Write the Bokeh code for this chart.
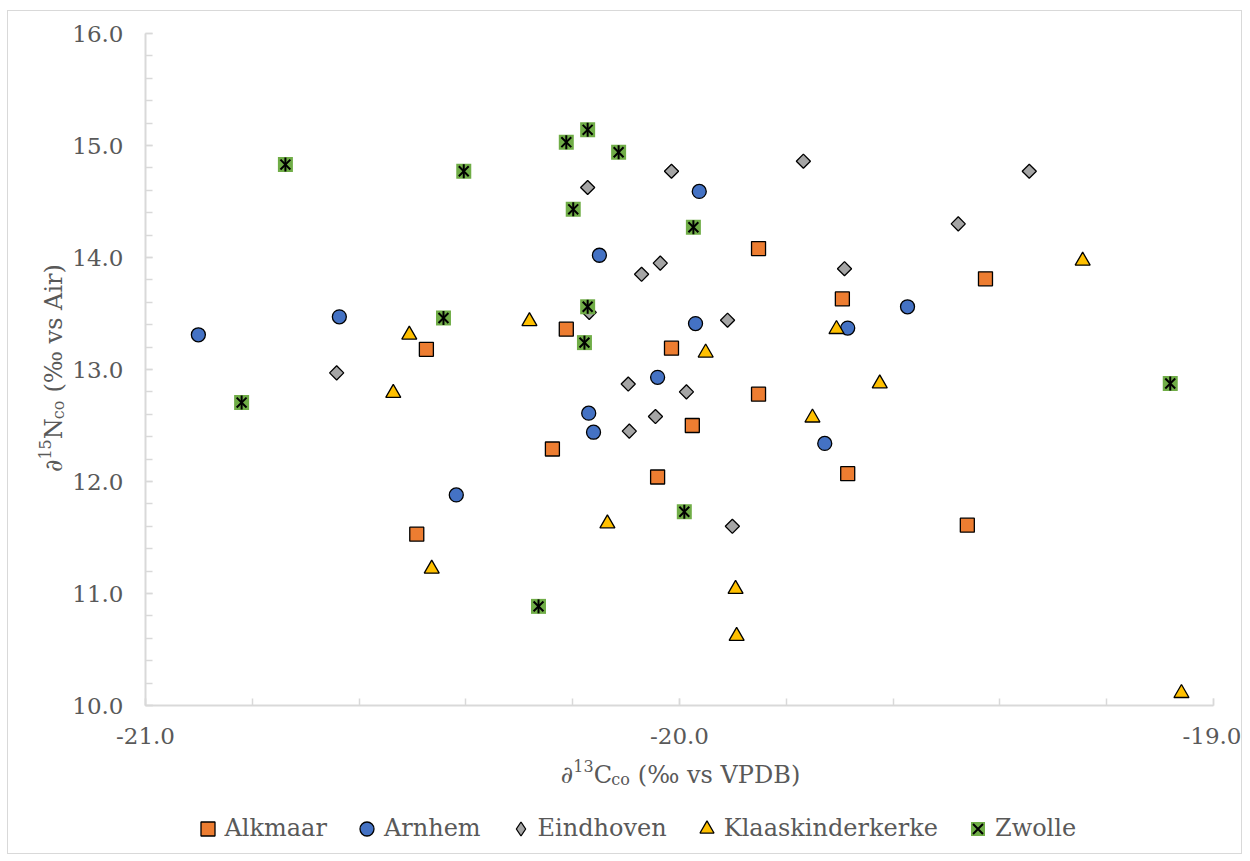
import numpy as np
from bokeh.plotting import figure
from bokeh.models import (FixedTicker, Legend, LegendItem, Label, Range1d,
                          NumeralTickFormatter, ColumnDataSource)
from bokeh.embed import file_html
from bokeh.resources import INLINE

# ---------------- data ----------------
alkmaar_x = [-20.474, -20.492, -20.212, -20.238, -20.015, -19.976, -20.041,
             -19.852, -19.852, -19.695, -19.685, -19.427, -19.461]
alkmaar_y = [13.18, 11.53, 13.36, 12.29, 13.19, 12.50, 12.04,
             14.08, 12.78, 13.63, 12.07, 13.81, 11.61]

arnhem_x = [-20.901, -20.637, -20.418, -20.150, -20.170, -20.161, -20.041,
            -19.970, -19.963, -19.728, -19.685, -19.573]
arnhem_y = [13.31, 13.47, 11.88, 14.02, 12.61, 12.44, 12.93,
            13.41, 14.59, 12.34, 13.37, 13.56]

eindhoven_x = [-20.642, -20.172, -20.015, -19.768, -20.071, -20.036, -19.691,
               -20.169, -19.910, -20.096, -19.987, -20.045, -20.094, -19.901,
               -19.345, -19.478]
eindhoven_y = [12.97, 14.625, 14.77, 14.86, 13.85, 13.95, 13.90,
               13.51, 13.44, 12.87, 12.80, 12.58, 12.45, 11.60,
               14.77, 14.30]

klaas_x = [-20.506, -20.281, -20.536, -20.464, -19.951, -19.706, -19.625,
           -19.245, -19.751, -20.135, -19.895, -19.893, -19.060]
klaas_y = [13.31, 13.43, 12.79, 11.22, 13.15, 13.36, 12.875,
           13.97, 12.57, 11.625, 11.04, 10.62, 10.11]

zwolle_x = [-20.738, -20.404, -20.442, -20.820, -20.264, -20.172, -20.212,
            -20.114, -20.199, -19.974, -20.172, -20.178, -19.081, -19.991]
zwolle_y = [14.83, 14.77, 13.46, 12.705, 10.885, 15.14, 15.03,
            14.94, 14.43, 14.27, 13.56, 13.24, 12.875, 11.73]

x_major = [-21.0, -20.0, -19.0]
y_major = [10.0, 11.0, 12.0, 13.0, 14.0, 15.0, 16.0]

# ---------------- layout constants (pixels) ----------------
FONT = "DejaVu Serif"
TXT = "#595959"
AXC = "#d9d9d9"
W_FIG, H_FIG = 1235, 844          # figure content size
FX0, FY0 = 8, 11                  # window position of figure content
PL, PR, PT, PB = 145, 1213, 33, 705   # plot area in window pixels
XPX = (PR - PL) / 2.0             # px per x unit
YPX = (PB - PT) / 6.0             # px per y unit

x0 = -21 - (PL - FX0) / XPX
x1 = x0 + W_FIG / XPX
y1 = 16 + (PT - FY0) / YPX
y0 = y1 - H_FIG / YPX

p = figure(width=W_FIG, height=H_FIG, x_range=Range1d(x0, x1), y_range=Range1d(y0, y1),
           output_backend="svg", toolbar_location=None,
           min_border_left=0, min_border_right=0, min_border_top=0, min_border_bottom=0)
p.margin = (10, 0, 0, 7)
p.styles = {"border": "1px solid #d9d9d9"}
p.xgrid.visible = False
p.ygrid.visible = False
p.outline_line_color = None
p.background_fill_color = "white"
p.border_fill_color = "white"

p.xaxis.fixed_location = 10.0
p.yaxis.fixed_location = -21.0
p.xaxis.bounds = (-21.0, -19.0)
p.yaxis.bounds = (10.0, 16.0)
p.xaxis.ticker = FixedTicker(ticks=x_major,
                             minor_ticks=[round(v, 2) for v in np.arange(-21.0, -18.99, 0.2)])
p.yaxis.ticker = FixedTicker(ticks=y_major,
                             minor_ticks=[round(v, 2) for v in np.arange(10.0, 16.01, 0.2)])
for ax in (p.xaxis[0], p.yaxis[0]):
    ax.formatter = NumeralTickFormatter(format="0.0")
    ax.axis_line_color = AXC
    ax.axis_line_width = 2
    ax.major_tick_line_color = AXC
    ax.major_tick_line_width = 1.5
    ax.major_tick_in = 7
    ax.major_tick_out = 0
    ax.minor_tick_line_color = AXC
    ax.minor_tick_line_width = 1.5
    ax.minor_tick_in = 7
    ax.minor_tick_out = 0
    ax.major_label_text_font = FONT
    ax.major_label_text_font_size = "23px"
    ax.major_label_text_color = TXT
p.yaxis.major_label_standoff = 22
p.xaxis.major_label_standoff = 22

# ---------------- markers ----------------
r_alk = p.scatter(alkmaar_x, alkmaar_y, marker="square", size=14,
                  fill_color="#ED7D31", line_color="black", line_width=1.3)
r_arn = p.scatter(arnhem_x, arnhem_y, marker="circle", size=14,
                  fill_color="#4472C4", line_color="black", line_width=1.3)
r_ein = p.scatter(eindhoven_x, eindhoven_y, marker="square", size=10, angle=np.pi / 4,
                  fill_color="#A5A5A5", line_color="black", line_width=1.3)
r_kla = p.scatter(klaas_x, klaas_y, marker="triangle", size=15,
                  fill_color="#FFC000", line_color="black", line_width=1.3)
r_zw_sq = p.scatter(zwolle_x, zwolle_y, marker="square", size=15,
                    fill_color="#70AD47", line_color=None)
r_zw_x = p.scatter(zwolle_x, zwolle_y, marker="x", size=14,
                   line_color="black", line_width=2)
r_zw_d = p.scatter(zwolle_x, zwolle_y, marker="dash", size=14, angle=np.pi / 2,
                   line_color="black", line_width=2)

# legend-only diamond for Eindhoven (the legend does not rotate markers);
# a single NaN point so it draws nothing in the plot
leg_src = ColumnDataSource(data=dict(x=[np.nan], y=[np.nan]))
r_ein_leg = p.scatter("x", "y", source=leg_src, marker="diamond", size=14,
                      fill_color="#A5A5A5", line_color="black", line_width=1.3)

LEG_LEFT, LEG_BOTTOM = 189.5, 845.5   # window pixels
legend = Legend(items=[
    LegendItem(label="Alkmaar", renderers=[r_alk]),
    LegendItem(label="Arnhem", renderers=[r_arn]),
    LegendItem(label="Eindhoven", renderers=[r_ein_leg]),
    LegendItem(label="Klaaskinderkerke", renderers=[r_kla]),
    LegendItem(label="Zwolle", renderers=[r_zw_sq, r_zw_x]),
], orientation="horizontal",
    location=(LEG_LEFT - FX0, FY0 + H_FIG - LEG_BOTTOM), padding=0, margin=0,
    glyph_width=35, glyph_height=35, label_standoff=0, spacing=22,
    label_text_font=FONT, label_text_font_size="24px", label_text_color=TXT,
    border_line_color=None, background_fill_alpha=0)
p.add_layout(legend, "center")


# ---------------- axis titles (rich text pieces) ----------------
def dx(px):
    return -21 + (px - PL) / XPX


def dy(py):
    return 16 - (py - PT) / YPX


W = {"∂": 0.52, "0": 0.636, "1": 0.636, "3": 0.636, "5": 0.636, "C": 0.734, "N": 0.837,
     "c": 0.56, "o": 0.602, " ": 0.318, "(": 0.39, ")": 0.39, "‰": 1.2, "v": 0.586,
     "s": 0.514, "V": 0.722, "P": 0.676, "D": 0.83, "B": 0.735, "A": 0.722, "i": 0.32,
     "r": 0.478}


def width(t, size):
    return sum(W.get(ch, 0.6) for ch in t) * size


MAIN, SMALL = 24, 16
GAP = 0.33 * MAIN
x_parts = [("∂", MAIN, 0, 0), ("13", SMALL, -9, 0), ("C", MAIN, 0, 0), ("co", SMALL, 5, 0),
           ("(‰ vs VPDB)", MAIN, 0, GAP)]
y_parts = [("∂", MAIN, 0, 0), ("15", SMALL, -9, 0), ("N", MAIN, 0, 0), ("co", SMALL, 5, 0),
           ("(‰ vs Air)", MAIN, 0, GAP)]

# x title: centred under the plot, baseline at 774 px
total = sum(width(t, s) + g for t, s, _, g in x_parts)
cur = (PL + PR) / 2 - total / 2
for t, s, off, g in x_parts:
    cur += g
    p.add_layout(Label(x=dx(cur), y=dy(774 + off), text=t, text_font=FONT,
                       text_font_size=f"{s}px", text_color=TXT,
                       text_align="left", text_baseline="alphabetic"))
    cur += width(t, s)

# y title: rotated, centred on plot, baseline at x=53 px
total = sum(width(t, s) + g for t, s, _, g in y_parts)
cur = (PT + PB) / 2 + total / 2
for t, s, off, g in y_parts:
    cur -= g
    p.add_layout(Label(x=dx(53 + off), y=dy(cur), text=t, text_font=FONT,
                       text_font_size=f"{s}px", text_color=TXT, angle=np.pi / 2,
                       text_align="left", text_baseline="alphabetic"))
    cur -= width(t, s)

open("out.html", "w").write(file_html(p, INLINE))
